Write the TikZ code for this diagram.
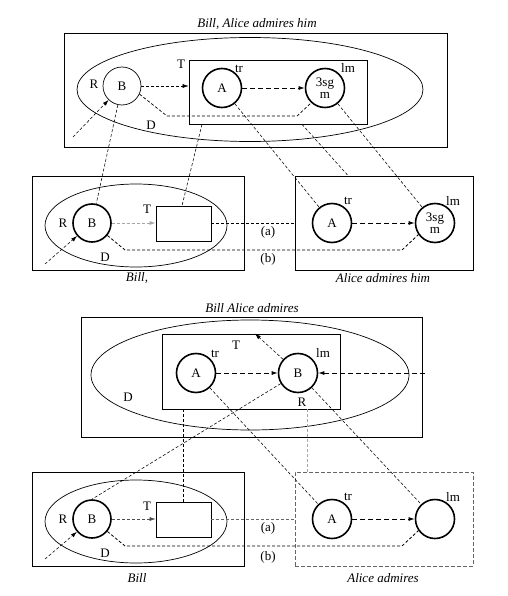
\documentclass[tikz,border=0pt]{standalone}
\usepackage{fontspec}
\setmainfont{Liberation Serif}
\usetikzlibrary{arrows.meta,shapes.geometric}
\begin{document}
\begin{tikzpicture}[x=1pt, y=-1pt, font=\fontsize{13}{15}\selectfont,
    ent/.style={draw, circle, line width=1.6pt, minimum size=39pt, inner sep=0pt, align=center, font=\fontsize{13}{12}\selectfont},
    frame/.style={draw, line width=0.9pt, inner sep=0pt},
    box/.style={draw, line width=0.7pt, inner sep=0pt},
    oval/.style={draw, ellipse, line width=0.7pt, inner sep=0pt},
    link/.style={dash pattern=on 3pt off 2pt, line width=0.55pt},
    flow/.style={dash pattern=on 5pt off 3pt, line width=0.9pt, -{Latex[length=6pt,width=4pt]}},
    tip/.style={-{Latex[length=6pt,width=4pt]}}]
  \useasboundingbox (0,0) rectangle (507,596);

  % Panel 1: Bill, Alice admires him
  \node (title1) at (257,24) {\itshape Bill, Alice admires him};
  \node[frame, minimum width=383pt, minimum height=114pt] (frame1) at (255.5,90) {};
  \node[oval, minimum width=346pt, minimum height=104pt] (ell1) at (250,89.5) {};
  \node[box, minimum width=178pt, minimum height=64pt] (box1) at (278,92) {};
  \node[ent, line width=0.7pt, minimum size=38pt] (B1) at (122,86) {B};
  \node[ent] (A1) at (222,88) {A};
  \node[ent] (S1) at (325,88) {3sg\\m};
  \foreach \pos/\txt in {{(94,84)/R}, {(181,64)/T}, {(151,125)/D}, {(239,69)/tr}, {(348,68)/lm}} {
    \node at \pos {\txt};
  }
  \coordinate (in1) at (73,137);
  \draw[link, tip] (in1) -- (B1);
  \draw[link, tip] (B1) -- (B1 -| box1.west);
  \draw[flow] (A1) -- (S1);
  \draw[link, line width=0.7pt] (B1.-25) -- (167,116) -- (297,116) -- (S1.-133);

  % Panel 2: Bill, / Alice admires him
  \node[frame, minimum width=212pt, minimum height=94pt] (L2) at (138,223) {};
  \node[oval, minimum width=182pt, minimum height=83pt] (ell2) at (136,225.5) {};
  \node[box, minimum width=55pt, minimum height=35pt] (T2) at (183.5,223.5) {};
  \node[ent, minimum size=38pt] (B2) at (92,223) {B};
  \node[frame, minimum width=178pt, minimum height=94pt] (R2) at (384,223) {};
  \node[ent] (A2) at (332,223) {A};
  \node[ent] (S2) at (435,223) {3sg\\m};
  \foreach \pos/\txt in {{(63,223)/R}, {(147,209)/T}, {(105,257)/D}, {(348,201)/tr}, {(453,201)/lm}, {(268,232)/(a)}, {(268,259)/(b)}} {
    \node at \pos {\txt};
  }
  \node (cap2l) at (137,278) {\itshape Bill,};
  \node (cap2r) at (383,278) {\itshape Alice admires him};
  \coordinate (in2) at (45,264);
  \draw[link, tip] (in2) -- (B2);
  \draw[link, tip, black!35, line width=0.9pt] (B2) -- (B2 -| T2.west);
  \draw[link, line width=0.8pt] (T2.east) -- (T2.east -| R2.west);
  \draw[link, line width=0.8pt] (B2.-39) -- (125,250) -- (402,250) -- (S2.-145);
  \draw[flow] (A2) -- (S2);

  % Links between panels 1 and 2
  \draw[link] (B1) -- (B2);
  \draw[link] (202,0 |- box1.south) -- (182,0 |- T2.north);
  \draw[link] (A1) -- (A2);
  \draw[link] (302,0 |- box1.south) -- (348,0 |- R2.north);
  \draw[link] (S1) -- (S2);

  % Panel 3: Bill Alice admires
  \node (title3) at (252,308) {\itshape Bill Alice admires};
  \node[frame, minimum width=341pt, minimum height=120pt] (frame3) at (251.5,377) {};
  \node[oval, minimum width=318pt, minimum height=110pt] (ell3) at (250,375) {};
  \node[box, minimum width=178pt, minimum height=75pt] (box3) at (251,371.5) {};
  \node[ent] (A3) at (196,373) {A};
  \node[ent] (B3) at (298,373) {B};
  \foreach \pos/\txt in {{(236,345)/T}, {(302,402)/R}, {(128,397)/D}, {(215,354)/tr}, {(323,353)/lm}} {
    \node at \pos {\txt};
  }
  \coordinate (in3) at (425,373);
  \draw[flow] (A3) -- (B3);
  \draw[flow] (in3) -- (B3);
  \draw[link, tip] (B3) -- (255,0 |- box3.north);

  % Panel 4: Bill / Alice admires
  \node[frame, minimum width=212pt, minimum height=94pt] (L4) at (138,519) {};
  \node[oval, minimum width=182pt, minimum height=83pt] (ell4) at (136,521.5) {};
  \node[box, minimum width=55pt, minimum height=35pt] (T4) at (183.5,519.5) {};
  \node[ent, minimum size=38pt] (B4) at (92,519) {B};
  \node[draw, black!60, dash pattern=on 4pt off 2pt, line width=0.6pt, minimum width=178pt, minimum height=94pt, inner sep=0pt] (R4) at (384,519) {};
  \node[ent] (A4) at (332,519) {A};
  \node[ent] (C4) at (435,519) {};
  \foreach \pos/\txt in {{(63,519)/R}, {(147,506)/T}, {(105,553)/D}, {(348,497)/tr}, {(453,497)/lm}, {(268,528)/(a)}, {(268,557)/(b)}} {
    \node at \pos {\txt};
  }
  \node (cap4l) at (137,578) {\itshape Bill};
  \node (cap4r) at (383,578) {\itshape Alice admires};
  \coordinate (in4) at (45,559);
  \draw[link, tip] (in4) -- (B4);
  \draw[link, tip, black!70, line width=0.6pt] (B4) -- (B4 -| T4.west);
  \draw[link, black!60, line width=0.7pt] (T4.east) -- (T4.east -| R4.west);
  \draw[link, line width=0.8pt] (B4.-39) -- (125,546) -- (402,546) -- (C4.-145);
  \draw[flow] (A4) -- (C4);

  % Links between panels 3 and 4
  \draw[link] (T4.north |- box3.south) -- (T4.north);
  \draw[link, black!35, line width=0.8pt] (307,0 |- box3.south) -- (307,0 |- R4.north);
  \draw[link] (A3) -- (A4);
  \draw[link] (B3) -- (B4.north);
  \draw[link] (B3) -- (C4);
\end{tikzpicture}
\end{document}
